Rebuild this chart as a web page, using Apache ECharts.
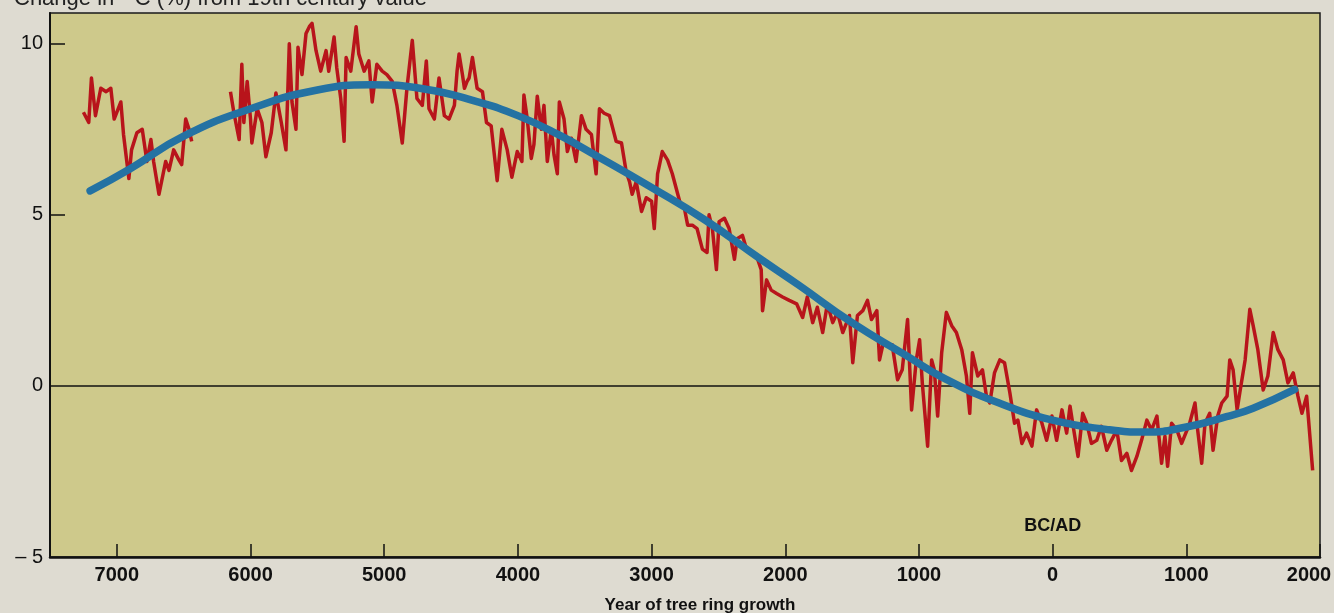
<!DOCTYPE html>
<html>
<head>
<meta charset="utf-8">
<script src="https://cdn.jsdelivr.net/npm/echarts@6/dist/echarts.min.js"></script>
<style>
  html, body { margin: 0; padding: 0; background: #dedbd1; }
  #chart { width: 1334px; height: 613px; }
</style>
</head>
<body>
<div id="chart"></div>
<script>
// tick years (negative = BC)
const tickYears = [-7000, -6000, -5000, -4000, -3000, -2000, -1000, 0, 1000, 2000];
const yLabelValues = [-5, 0, 5, 10];
const yTickValues = [5, 10];

// red: measured tree-ring 14C, '-' marks the gap in the record
const redYears = [
  -7250, -7210, -7190, -7160, -7120, -7080, -7045, -7020, -6970, -6950, -6910, -6890, -6850, -6810,
  -6775, -6745, -6725, -6685, -6635, -6610, -6575, -6535, -6515, -6485, -6460, -6440,
  -6300,
  -6150, -6125, -6085, -6065, -6050, -6025, -6000, -5990, -5950, -5915, -5885, -5845, -5810, -5770,
  -5735, -5710, -5690, -5660, -5645, -5615, -5585, -5560, -5540, -5510, -5475, -5435, -5415, -5375,
  -5355, -5325, -5300, -5285, -5250, -5210, -5190, -5150, -5115, -5090, -5055, -5015, -4980, -4940,
  -4905, -4865, -4830, -4790, -4755, -4715, -4685, -4665, -4625, -4590, -4550, -4515, -4475, -4455,
  -4440, -4415, -4400, -4380, -4365, -4340, -4305, -4265, -4235, -4200, -4155, -4120, -4080, -4045,
  -4005, -3970, -3955, -3930, -3900, -3880, -3855, -3825, -3805, -3780, -3750, -3730, -3705, -3690,
  -3655, -3630, -3600, -3565, -3525, -3490, -3450, -3415, -3390, -3355, -3315, -3265, -3225, -3190,
  -3165, -3145, -3115, -3075, -3040, -3000, -2980, -2955, -2920, -2880, -2845, -2790, -2755, -2730,
  -2695, -2660, -2620, -2585, -2570, -2545, -2515, -2495, -2455, -2420, -2380, -2360, -2320, -2290,
  -2255, -2215, -2180, -2170, -2140, -2105, -2065, -2020, -1970, -1915, -1870, -1835, -1795, -1760,
  -1720, -1685, -1645, -1610, -1570, -1520, -1495, -1460, -1420, -1385, -1355, -1315, -1295, -1270,
  -1235, -1200, -1160, -1125, -1085, -1055, -1020, -995, -975, -935, -905, -885, -860, -830,
  -795, -755, -720, -680, -645, -620, -600, -560, -525, -495, -470, -435, -395, -360,
  -320, -285, -260, -230, -195, -155, -120, -80, -45, -5, 30, 70, 105, 130,
  150, 190, 225, 255, 290, 330, 365, 405, 440, 480, 515, 555, 590, 630,
  665, 705, 740, 780, 815, 840, 860, 890, 930, 965, 1005, 1025, 1065, 1085,
  1115, 1140, 1175, 1200, 1235, 1265, 1305, 1325, 1350, 1380, 1400, 1440, 1475, 1500,
  1535, 1575, 1610, 1650, 1685, 1725, 1760, 1800, 1835, 1865, 1900, 1945
];
const redValues = [
  8.0, 7.7, 9.0, 7.9, 8.7, 8.6, 8.7, 7.8, 8.3, 7.35, 6.06, 6.9, 7.4, 7.5,
  6.56, 7.2, 6.56, 5.6, 6.56, 6.3, 6.9, 6.6, 6.47, 7.8, 7.5, 7.15,
  '-',
  8.6, 8.0, 7.2, 9.4, 7.7, 8.9, 7.8, 7.1, 8.1, 7.7, 6.7, 7.4, 8.56, 7.7,
  6.9, 10.0, 8.3, 7.5, 9.9, 9.1, 10.3, 10.5, 10.6, 9.8, 9.2, 9.8, 9.2, 10.2,
  9.3, 8.4, 7.15, 9.6, 9.2, 10.5, 9.7, 9.2, 9.5, 8.3, 9.4, 9.2, 9.1, 8.9,
  8.2, 7.1, 8.7, 10.1, 8.4, 8.2, 9.5, 8.1, 7.8, 9.0, 7.9, 7.8, 8.2, 9.2,
  9.7, 9.1, 8.7, 8.9, 9.0, 9.6, 8.7, 8.6, 7.7, 7.6, 6.0, 7.5, 6.9, 6.1,
  6.85, 6.56, 8.5, 7.8, 6.65, 7.06, 8.47, 7.5, 8.2, 6.56, 7.5, 6.76, 6.2, 8.3,
  7.8, 6.85, 7.24, 6.56, 7.9, 7.5, 7.35, 6.2, 8.1, 7.97, 7.9, 7.15, 7.1, 6.26,
  5.97, 5.6, 5.97, 5.1, 5.5, 5.4, 4.6, 6.2, 6.85, 6.6, 6.2, 5.4, 5.2, 4.7,
  4.7, 4.6, 4.0, 3.9, 5.0, 4.6, 3.4, 4.8, 4.9, 4.6, 3.7, 4.3, 4.4, 4.0,
  3.9, 3.8, 3.4, 2.2, 3.1, 2.8, 2.7, 2.6, 2.5, 2.4, 2.0, 2.6, 1.85, 2.3,
  1.56, 2.4, 1.85, 2.15, 1.56, 2.06, 0.68, 2.06, 2.2, 2.5, 1.94, 2.2, 0.76, 1.2,
  1.2, 1.2, 0.18, 0.47, 1.94, -0.7, 0.76, 1.35, 0.09, -1.76, 0.76, 0.47, -0.88, 0.97,
  2.15, 1.76, 1.56, 1.06, 0.29, -0.8, 0.97, 0.29, 0.47, -0.3, -0.5, 0.38, 0.76, 0.68,
  -0.2, -1.09, -1.0, -1.68, -1.38, -1.76, -0.7, -1.09, -1.59, -0.88, -1.59, -0.7, -1.38, -0.59,
  -1.09, -2.06, -0.8, -1.09, -1.68, -1.59, -1.18, -1.88, -1.59, -1.29, -2.18, -1.97, -2.47, -2.06,
  -1.59, -1.0, -1.29, -0.88, -2.26, -1.47, -2.35, -1.09, -1.29, -1.68, -1.29, -1.09, -0.5, -1.29,
  -2.26, -1.09, -0.8, -1.88, -0.88, -0.5, -0.3, 0.76, 0.47, -0.7, -0.2, 0.76, 2.24, 1.76,
  1.06, -0.12, 0.29, 1.56, 1.06, 0.76, 0.09, 0.38, -0.3, -0.8, -0.3, -2.47
];

// blue: smoothed trend
const blueYears = [-7200, -6900, -6500, -6000, -5500, -5100, -4700, -4300, -4000, -3700, -3400, -3000, -2600,
  -2200, -1900, -1500, -1100, -800, -400, 0, 400, 700, 1000, 1300, 1500, 1810];
const blueValues = [5.7, 6.35, 7.3, 8.1, 8.65, 8.8, 8.68, 8.3, 7.9, 7.35, 6.7, 5.8, 4.85,
  3.75, 2.95, 1.85, 0.9, 0.2, -0.5, -1.0, -1.27, -1.35, -1.2, -0.9, -0.65, -0.1];

const chart = echarts.init(document.getElementById('chart'));

const option = {
  animation: false,
  backgroundColor: '#dedbd1',
  textStyle: { fontFamily: 'Liberation Sans, Arial, sans-serif' },
  graphic: [{
    type: 'text',
    x: 14, y: 10,
    style: {
      text: 'Change in {sup|14}C (%) from 19th century value',
      rich: { sup: { fontSize: 13, verticalAlign: 'top', lineHeight: 22 } },
      fontSize: 22,
      lineHeight: 22,
      fontFamily: 'Liberation Sans, Arial, sans-serif',
      fill: '#222',
      verticalAlign: 'bottom'
    }
  }],
  grid: {
    left: 50, right: 14, top: 13, bottom: 56,
    outerBoundsMode: 'none',
    containLabel: false,
    show: true,
    backgroundColor: '#cec98b',
    borderColor: '#1a1a1a',
    borderWidth: 1.5
  },
  xAxis: {
    type: 'value',
    min: -7500,
    max: 2000,
    axisLine: { show: true, onZero: false, lineStyle: { color: '#111', width: 2.5 } },
    axisTick: { show: true, inside: true, length: 13, customValues: tickYears, lineStyle: { color: '#111', width: 1.5 } },
    axisLabel: {
      customValues: tickYears,
      // the last label sits against the right edge, so shift it left
      formatter: v => (v === 2000 ? '{edge|2000}' : String(Math.abs(v))),
      rich: { edge: { padding: [0, 22, 0, 0], fontSize: 20, fontWeight: 'bold', color: '#111' } },
      color: '#111', fontSize: 20, fontWeight: 'bold', margin: 8,
      showMaxLabel: true
    },
    splitLine: { show: false },
    name: 'Year of tree ring growth',
    nameLocation: 'middle',
    nameGap: 40,
    nameTextStyle: { color: '#111', fontSize: 17, fontWeight: 'bold', padding: [0, 0, 0, 30] }
  },
  yAxis: {
    type: 'value',
    min: -5,
    max: 10.9,
    axisLine: { show: true, onZero: false, lineStyle: { color: '#111', width: 2 } },
    axisTick: { show: true, inside: true, length: 15, customValues: yTickValues, lineStyle: { color: '#111', width: 1.5 } },
    axisLabel: {
      customValues: yLabelValues,
      formatter: v => (v < 0 ? '\u2013 ' + Math.abs(v) : String(v)),
      color: '#111', fontSize: 20, margin: 7
    },
    splitLine: { show: false }
  },
  series: [
    {
      type: 'line',
      data: redYears.map((y, i) => [y, redValues[i]]),
      connectNulls: false,
      showSymbol: false,
      lineStyle: { color: '#b8141b', width: 3.5, join: 'round' },
      z: 2,
      markLine: {
        silent: true,
        symbol: 'none',
        label: { show: false },
        lineStyle: { color: '#111', width: 1.5, type: 'solid' },
        data: [{ yAxis: 0 }],
        z: 1
      }
    },
    {
      type: 'line',
      data: blueYears.map((y, i) => [y, blueValues[i]]),
      smooth: true,
      showSymbol: false,
      lineStyle: { color: '#2472a3', width: 7.5, cap: 'round' },
      z: 3,
      markPoint: {
        symbol: 'circle',
        symbolSize: 0,
        label: { show: true, position: 'inside', formatter: 'BC/AD', color: '#111', fontSize: 18, fontWeight: 'bold' },
        data: [{ coord: [0, -4.1] }]
      }
    }
  ]
};

chart.setOption(option);
</script>
</body>
</html>
